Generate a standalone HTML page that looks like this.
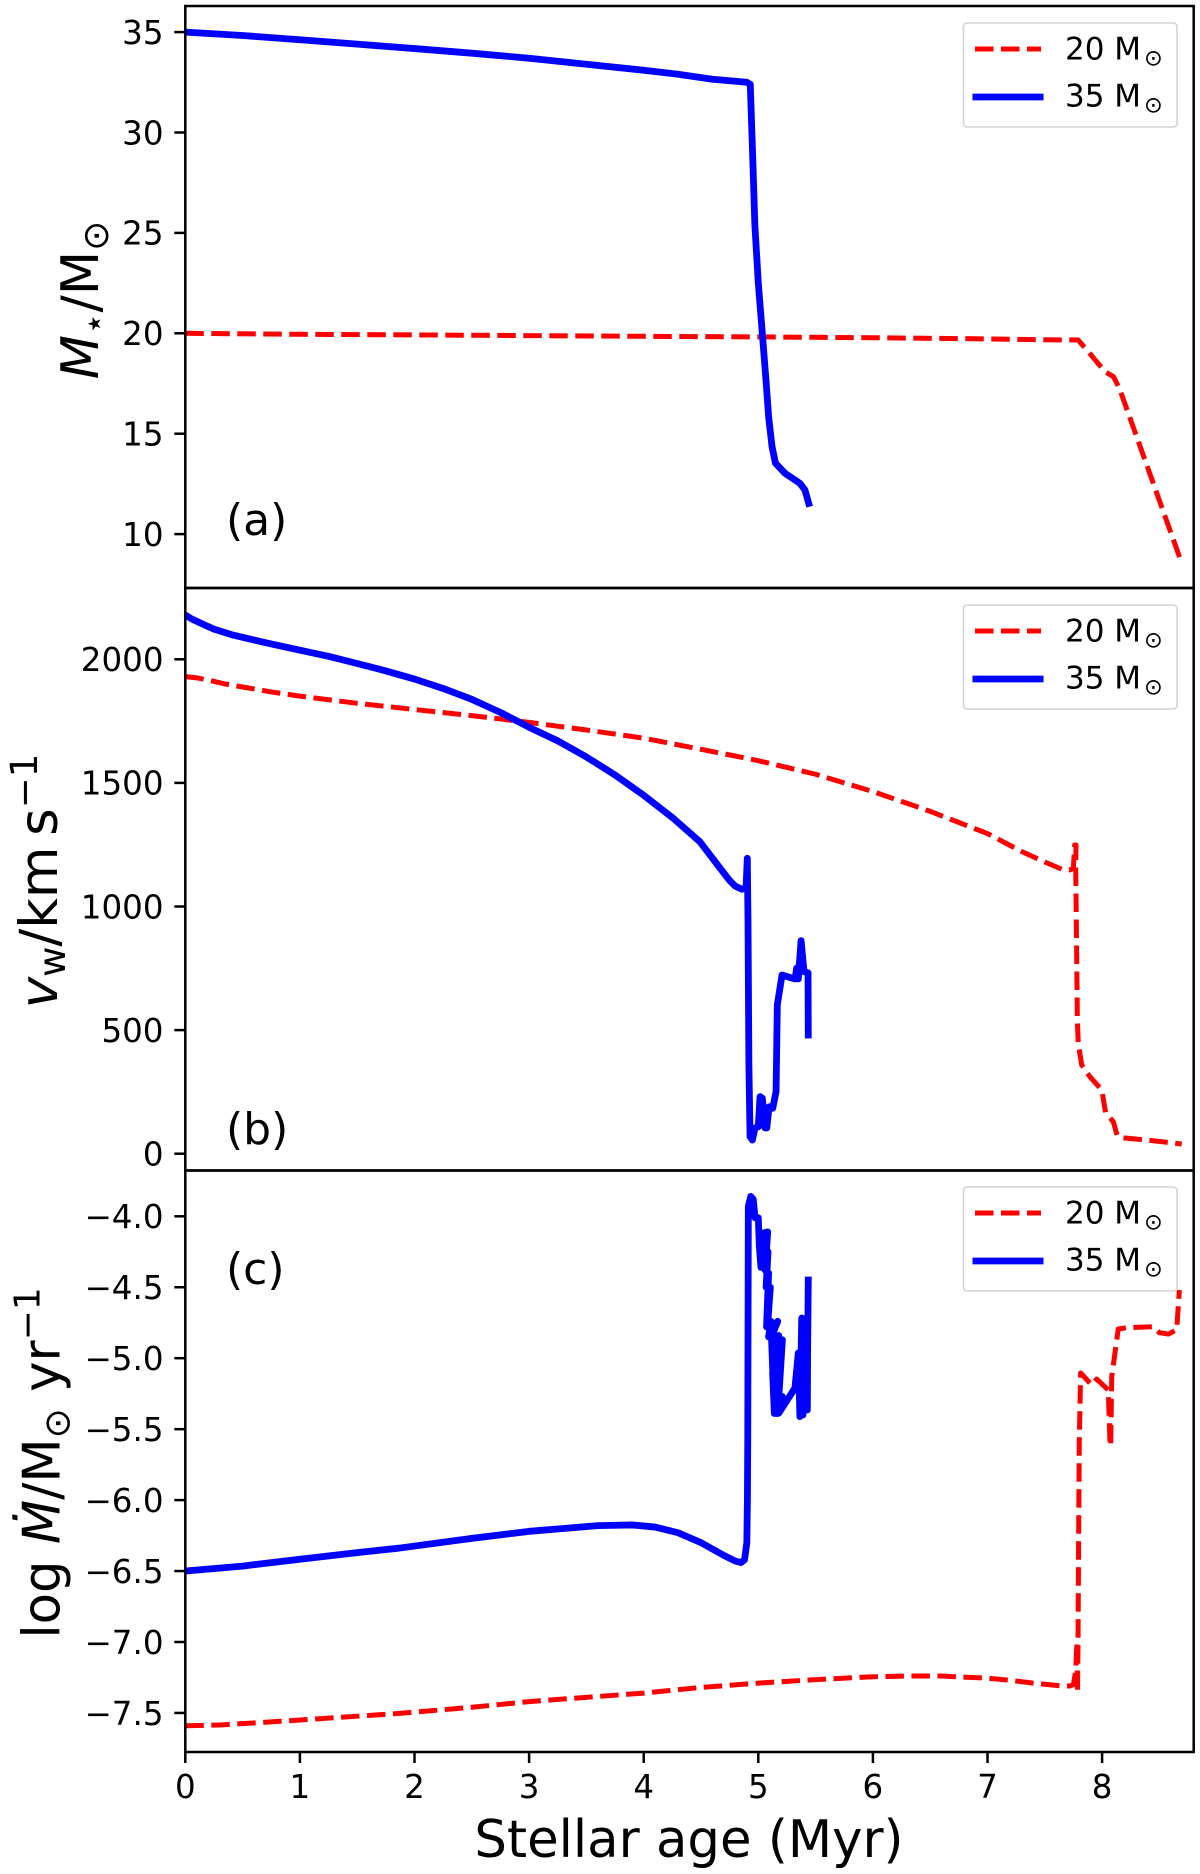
<!DOCTYPE html>
<html lang="en">
<head>
<meta charset="utf-8">
<title>Stellar evolution tracks</title>
<style>
html,body{margin:0;padding:0;background:#fff}
svg{display:block}
text{font-family:"DejaVu Sans","Liberation Sans",sans-serif;fill:#000}
.tick{font-size:32.5px}
.axis{font-size:51.3px}
.panel{font-size:44px}
.leg{font-size:31px}
</style>
</head>
<body>
<svg id="chart" xmlns="http://www.w3.org/2000/svg" width="1200" height="1874" viewBox="0 0 1200 1874">
<defs>
<clipPath id="clip-a"><rect x="185.3" y="6" width="1008.4" height="582"/></clipPath>
<clipPath id="clip-b"><rect x="185.3" y="588" width="1008.4" height="582.5"/></clipPath>
<clipPath id="clip-c"><rect x="185.3" y="1170.5" width="1008.4" height="581.5"/></clipPath>
</defs>
<rect x="0" y="0" width="1200" height="1874" fill="#fff"/>
<g id="marks"></g>

<g id="legend-a">
<rect x="963.5" y="23" width="213.5" height="104" rx="3.5" fill="#fff" fill-opacity="0.8" stroke="#d4d4d4" stroke-width="1.6"/>
<line x1="975" x2="1041" y1="49" y2="49" stroke="#f00" stroke-width="5" stroke-dasharray="18.5 7.5"/>
<line x1="972.5" x2="1043.5" y1="97" y2="97" stroke="#00f" stroke-width="6.8"/>
<text class="leg" x="1065" y="59.3">20 M<tspan font-size="22.5" dx="3" dy="6">⊙</tspan></text>
<text class="leg" x="1065" y="106.7">35 M<tspan font-size="22.5" dx="3" dy="6">⊙</tspan></text>
</g>
<g id="legend-b">
<rect x="963.5" y="605" width="213.5" height="104" rx="3.5" fill="#fff" fill-opacity="0.8" stroke="#d4d4d4" stroke-width="1.6"/>
<line x1="975" x2="1041" y1="631" y2="631" stroke="#f00" stroke-width="5" stroke-dasharray="18.5 7.5"/>
<line x1="972.5" x2="1043.5" y1="679" y2="679" stroke="#00f" stroke-width="6.8"/>
<text class="leg" x="1065" y="641.3">20 M<tspan font-size="22.5" dx="3" dy="6">⊙</tspan></text>
<text class="leg" x="1065" y="688.7">35 M<tspan font-size="22.5" dx="3" dy="6">⊙</tspan></text>
</g>
<g id="legend-c">
<rect x="963.5" y="1187" width="213.5" height="104" rx="3.5" fill="#fff" fill-opacity="0.8" stroke="#d4d4d4" stroke-width="1.6"/>
<line x1="975" x2="1041" y1="1213" y2="1213" stroke="#f00" stroke-width="5" stroke-dasharray="18.5 7.5"/>
<line x1="972.5" x2="1043.5" y1="1261" y2="1261" stroke="#00f" stroke-width="6.8"/>
<text class="leg" x="1065" y="1223.3">20 M<tspan font-size="22.5" dx="3" dy="6">⊙</tspan></text>
<text class="leg" x="1065" y="1270.7">35 M<tspan font-size="22.5" dx="3" dy="6">⊙</tspan></text>
</g>

<g id="frames" fill="none" stroke="#000" stroke-width="2.5"></g>
<g id="ticks"></g>

<text class="panel" x="226" y="535">(a)</text>
<text class="panel" x="226" y="1144">(b)</text>
<text class="panel" x="226" y="1284">(c)</text>

<text class="axis" text-anchor="middle" transform="translate(98,300) rotate(-90)"><tspan font-style="italic">M</tspan><tspan font-size="36" dy="8">⋆</tspan><tspan dy="-8">/M</tspan><tspan font-size="36" dy="10">⊙</tspan></text>
<text class="axis" text-anchor="middle" font-size="53" style="font-size:53px" transform="translate(57,881) rotate(-90)"><tspan font-style="italic">v</tspan><tspan font-size="37" dy="8">w</tspan><tspan dy="-8">/km&#x2009;s</tspan><tspan font-size="37" dy="-20">−1</tspan></text>
<text class="axis" text-anchor="middle" transform="translate(59.3,1463) rotate(-90)">log <tspan font-style="italic">M&#x307;</tspan>/M<tspan font-size="36" dy="10">⊙</tspan><tspan dy="-10"> yr</tspan><tspan font-size="36" dy="-20">−1</tspan></text>
<text class="axis" text-anchor="middle" x="689" y="1857">Stellar age (Myr)</text>
</svg>

<script>
// X axis ticks (Myr)
const xTicks = [0, 1, 2, 3, 4, 5, 6, 7, 8];

// Panel (a) stellar mass
const massTicks = [10, 15, 20, 25, 30, 35];
const massAge20 = [0, 1, 2, 4, 5, 6, 7, 7.6, 7.79, 7.88, 8.025, 8.1, 8.156, 8.68];
const massVal20 = [20, 19.95, 19.92, 19.85, 19.82, 19.78, 19.72, 19.67, 19.67, 19.08, 18.09, 17.84, 17.18, 8.79];
const massAge35 = [0, 0.5, 1, 1.5, 2, 2.5, 3, 3.5, 4, 4.3, 4.6, 4.9, 4.93, 4.95, 4.97, 5, 5.035, 5.067, 5.09, 5.12, 5.15, 5.233, 5.363, 5.407, 5.44];
const massVal35 = [35, 34.83, 34.62, 34.4, 34.18, 33.95, 33.7, 33.4, 33.1, 32.9, 32.65, 32.5, 32.4, 29, 25.4, 22.5, 20, 17.67, 15.85, 14.35, 13.53, 13.03, 12.53, 12.2, 11.53];

// Panel (b) wind velocity
const windTicks = [0, 500, 1000, 1500, 2000];
const windAge20 = [0, 0.1, 0.2, 0.35, 0.5, 0.75, 1, 1.5, 2, 2.5, 3, 3.5, 4, 4.5, 5, 5.5, 6, 6.5, 7, 7.3, 7.5, 7.662, 7.72, 7.749, 7.761, 7.772, 7.77, 7.778, 7.784, 7.792, 7.822, 7.894, 7.997, 8.031, 8.098, 8.133, 8.185, 8.477, 8.695];
const windVal20 = [1930, 1925, 1916, 1900, 1888, 1868, 1851, 1822, 1797, 1772, 1745, 1714, 1681, 1636, 1590, 1535, 1465, 1385, 1295, 1222, 1180, 1148, 1148, 1155, 1249, 1249, 1148, 812, 541, 447, 359, 311, 258, 165, 129, 72, 64, 51, 39];
const windAge35 = [0, 0.05, 0.13, 0.25, 0.417, 0.7, 1, 1.25, 1.5, 1.75, 2, 2.25, 2.5, 2.75, 3, 3.25, 3.5, 3.75, 4, 4.25, 4.49, 4.65, 4.75, 4.8, 4.855, 4.893, 4.904, 4.91, 4.918, 4.928, 4.948, 4.971, 5, 5.015, 5.035, 5.059, 5.074, 5.094, 5.126, 5.155, 5.166, 5.207, 5.292, 5.321, 5.335, 5.349, 5.373, 5.399, 5.434, 5.436];
const windVal35 = [2179, 2165, 2147, 2122, 2098, 2067, 2037, 2012, 1983, 1953, 1920, 1882, 1838, 1785, 1725, 1670, 1605, 1532, 1450, 1360, 1262, 1165, 1105, 1082, 1070, 1075, 1195, 945, 359, 69, 55, 104, 109, 231, 225, 104, 104, 190, 184, 251, 602, 723, 711, 707, 751, 707, 862, 736, 732, 480];

// Panel (c) mass-loss rate
const lossTicks = [-7.5, -7.0, -6.5, -6.0, -5.5, -5.0, -4.5, -4.0];
const lossAge20 = [0, 0.3, 1, 1.87, 2.5, 3, 3.5, 4, 4.5, 5, 5.5, 6, 6.3, 6.6, 7, 7.2, 7.4, 7.65, 7.72, 7.75, 7.77, 7.78, 7.785, 7.79, 7.795, 7.801, 7.813, 7.909, 7.953, 8.054, 8.069, 8.075, 8.084, 8.141, 8.215, 8.447, 8.5, 8.578, 8.651, 8.674];
const lossVal20 = [-7.59, -7.585, -7.55, -7.503, -7.46, -7.42, -7.39, -7.36, -7.32, -7.29, -7.265, -7.245, -7.24, -7.24, -7.255, -7.27, -7.29, -7.31, -7.31, -7.3, -7.2, -7.0, -7.36, -7.0, -6.3, -5.577, -5.104, -5.189, -5.147, -5.224, -5.6, -5.62, -5.13, -4.794, -4.785, -4.778, -4.82, -4.83, -4.8, -4.52];
const lossAge35 = [0, 0.5, 1, 1.5, 1.87, 2.5, 3, 3.3, 3.6, 3.9, 4.1, 4.3, 4.5, 4.7, 4.8, 4.85, 4.88, 4.9, 4.905, 4.908, 4.913, 4.934, 4.956, 4.971, 5, 5.009, 5.023, 5.035, 5.082, 5.06, 5.085, 5.068, 5.09, 5.072, 5.105, 5.08, 5.11, 5.09, 5.169, 5.115, 5.14, 5.125, 5.178, 5.14, 5.2, 5.16, 5.21, 5.17, 5.21, 5.18, 5.32, 5.349, 5.363, 5.379, 5.39, 5.41, 5.428, 5.43, 5.436];
const lossVal35 = [-6.5, -6.465, -6.417, -6.37, -6.338, -6.27, -6.22, -6.2, -6.18, -6.175, -6.19, -6.23, -6.3, -6.39, -6.43, -6.44, -6.42, -6.3, -6, -5.58, -3.93, -3.86, -3.88, -4.01, -4.01, -4.21, -4.36, -4.12, -4.11, -4.38, -4.25, -4.5, -4.4, -4.78, -4.5, -4.78, -4.74, -4.85, -4.74, -4.85, -5.386, -5.1, -4.84, -5.39, -4.87, -5.39, -4.87, -5.39, -5.27, -5.386, -5.21, -4.963, -5.412, -4.717, -5.4, -4.72, -5.365, -5, -4.449];

const NS = 'http://www.w3.org/2000/svg';
const LEFT = 185.3, RIGHT = 1193.7;

function xScale(t) { return LEFT + 114.6 * t; }
function yMass(v) { return 333.3 - (v - 20) * 20.08; }
function yWind(v) { return 1153.7 - v * 0.2472; }
function yLoss(v) { return 1216.3 + (-4 - v) * 141.9; }

function pathFor(ages, vals, yFn) {
  return ages.map(function (t, i) {
    return (i ? 'L' : 'M') + xScale(t).toFixed(2) + ' ' + yFn(vals[i]).toFixed(2);
  }).join('');
}

function drawSeries(name, ages, vals, yFn, clip, is35) {
  const p = document.createElementNS(NS, 'path');
  
  
  p.setAttribute('d', pathFor(ages, vals, yFn));
  p.setAttribute('fill', 'none');
  p.setAttribute('stroke-linejoin', 'round');
  p.setAttribute('clip-path', 'url(#' + clip + ')');
  if (is35) {
    p.setAttribute('stroke', '#0000ff');
    p.setAttribute('stroke-width', '6.8');
    p.setAttribute('stroke-linecap', 'square');
  } else {
    p.setAttribute('stroke', '#ff0000');
    p.setAttribute('stroke-width', '5');
    p.setAttribute('stroke-dasharray', '18.5 7.5');
  }
  document.getElementById('marks').appendChild(p);
}

drawSeries('mass-line-20', massAge20, massVal20, yMass, 'clip-a', false);
drawSeries('mass-line-35', massAge35, massVal35, yMass, 'clip-a', true);
drawSeries('wind-line-20', windAge20, windVal20, yWind, 'clip-b', false);
drawSeries('wind-line-35', windAge35, windVal35, yWind, 'clip-b', true);
drawSeries('loss-line-20', lossAge20, lossVal20, yLoss, 'clip-c', false);
drawSeries('loss-line-35', lossAge35, lossVal35, yLoss, 'clip-c', true);

function drawFrame(name, top, bottom) {
  const r = document.createElementNS(NS, 'rect');
  
  
  r.setAttribute('x', LEFT);
  r.setAttribute('y', top);
  r.setAttribute('width', RIGHT - LEFT);
  r.setAttribute('height', bottom - top);
  document.getElementById('frames').appendChild(r);
}
drawFrame('panel-a-frame', 6, 588);
drawFrame('panel-b-frame', 588, 1170.5);
drawFrame('panel-c-frame', 1170.5, 1752);

function drawYTicks(prefix, ticks, yFn, fmt) {
  const host = document.getElementById('ticks');
  ticks.forEach(function (v) {
    const y = yFn(v);
    const l = document.createElementNS(NS, 'line');
    
    
    l.setAttribute('x1', LEFT - 11);
    l.setAttribute('x2', LEFT);
    l.setAttribute('y1', y);
    l.setAttribute('y2', y);
    l.setAttribute('stroke', '#000');
    l.setAttribute('stroke-width', '2.5');
    host.appendChild(l);
    const t = document.createElementNS(NS, 'text');
    
    
    t.setAttribute('class', 'tick');
    t.setAttribute('x', 163.5);
    t.setAttribute('y', y + 11.8);
    t.setAttribute('text-anchor', 'end');
    t.textContent = fmt(v);
    host.appendChild(t);
  });
}
drawYTicks('mass-axis', massTicks, yMass, function (v) { return String(v); });
drawYTicks('wind-axis', windTicks, yWind, function (v) { return String(v); });
drawYTicks('loss-axis', lossTicks, yLoss, function (v) { return '\u2212' + Math.abs(v).toFixed(1); });

xTicks.forEach(function (v) {
  const host = document.getElementById('ticks');
  const x = xScale(v);
  const l = document.createElementNS(NS, 'line');
  
  
  l.setAttribute('x1', x);
  l.setAttribute('x2', x);
  l.setAttribute('y1', 1752);
  l.setAttribute('y2', 1763);
  l.setAttribute('stroke', '#000');
  l.setAttribute('stroke-width', '2.5');
  host.appendChild(l);
  const t = document.createElementNS(NS, 'text');
  
  
  t.setAttribute('class', 'tick');
  t.setAttribute('x', x);
  t.setAttribute('y', 1798);
  t.setAttribute('text-anchor', 'middle');
  t.textContent = String(v);
  host.appendChild(t);
});
</script>
</body>
</html>
